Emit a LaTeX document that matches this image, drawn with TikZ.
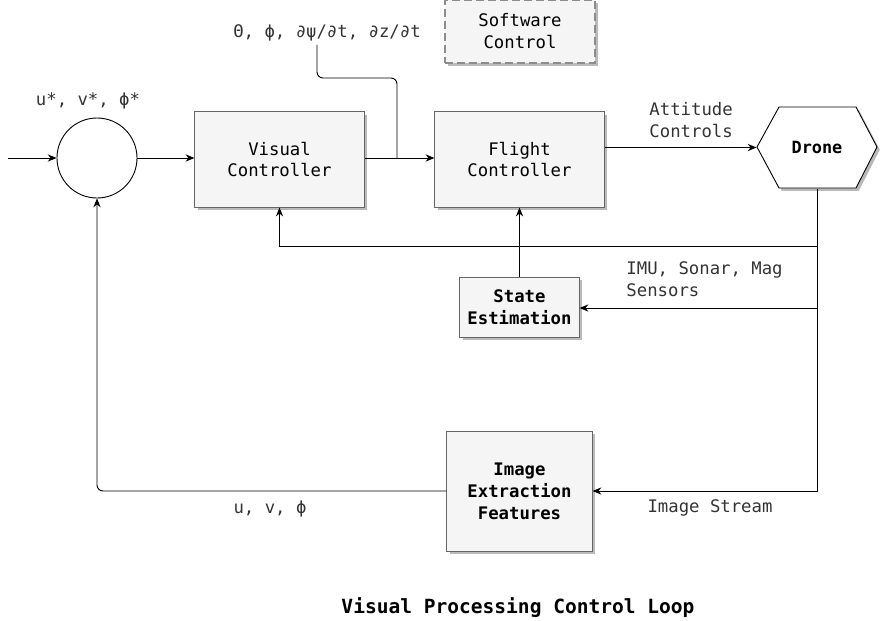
\documentclass[tikz,border=0pt]{standalone}
\usepackage{fontspec}
\setmainfont{DejaVu Sans Mono}
\usepackage{tikz}
\usetikzlibrary{calc}
\usetikzlibrary{positioning}
\usetikzlibrary{arrows.meta}
\usetikzlibrary{shadows}
\definecolor{boxfill}{HTML}{F5F5F5}
\definecolor{boxline}{HTML}{666666}
\definecolor{txt}{HTML}{333333}

\begin{document}
\begin{tikzpicture}[x=0.025cm,y=-0.025cm,line width=0.65pt,>={Stealth[length=2.2mm,width=1.8mm]},
    font=\fontsize{12.3}{15.6}\selectfont]
\tikzstyle{box}=[rectangle,align=center,draw=boxline,fill=boxfill,text=black,
    drop shadow={shadow xshift=0.07cm,shadow yshift=-0.07cm,opacity=0.45,fill=black!60}]
\tikzstyle{lbl}=[align=left,text=txt,inner sep=0pt]
\useasboundingbox (0,0) rectangle (880,620);
% blocks
\node[circle,draw,minimum size=2cm,fill=white] at(97, 158) (sum) {};
\node[box,minimum width=4.23cm,minimum height=2.38cm] at(279.5, 159.5) (vc) {Visual\\Controller};
\node[box,minimum width=4.23cm,minimum height=2.38cm] at(519.5, 159.5) (fc) {Flight\\Controller};
\node[box,dash pattern=on 2mm off 1mm,line width=1pt,draw=gray!90,minimum width=3.75cm,minimum height=1.58cm] at(520, 31.5) (sw) {Software\\Control};
\node[box,minimum width=2.98cm,minimum height=1.5cm] at(519.5, 307) (se) {\bfseries State\\\bfseries Estimation};
\node[box,minimum width=3.63cm,minimum height=3cm] at(519.5, 491) (img) {\bfseries Image\\\bfseries Extraction\\\bfseries Features};
% drone hexagon
\draw[fill=white,drop shadow={shadow xshift=0.07cm,shadow yshift=-0.07cm,opacity=0.45,fill=black!60}]
    (757,147) -- (779,107) -- (856,107) -- (877,147) -- (856,188) -- (779,188) -- cycle;
\node[minimum width=3cm,minimum height=2.03cm,font=\fontsize{12}{14}\selectfont\bfseries] at(817, 147.5) (drone) {Drone};
% labels
\node[lbl] at(88, 101) (ref) {u*, v*, ϕ*};
\node[lbl] at(327, 33) (att) {Θ, ϕ, ∂ψ/∂t, ∂z/∂t};
\node[lbl,anchor=west] at(649, 120) (attc) {Attitude\\Controls};
\node[lbl,anchor=west] at(626, 279) (sens) {IMU, Sonar, Mag\\Sensors};
\node[lbl] at(710, 508) (stream) {Image Stream};
\node[lbl] at(270, 509) (feat) {u, v, ϕ};
\node[lbl,text=black,font=\fontsize{13.9}{16}\selectfont\bfseries] at(518, 608) (title) {Visual Processing Control Loop};
% connectors
\coordinate (in) at(8, 158);
\coordinate (join) at(397, 158);
\coordinate (bend) at(397, 78);
\coordinate (tapvc) at(817, 246);
\coordinate (tapse) at(817, 308);
\draw[->] (in) -- (sum.west);
\draw[->] (sum.east) -- (vc.west |- sum.east);
\draw[->] (vc.east |- join) -- (fc.west |- join);
\draw[rounded corners=1.5mm] ([xshift=-0.25cm, yshift=-0.08cm]att.south) |- (bend) -- (join);
\draw[->] (fc.east |- drone.west) -- (drone.west);
\draw[->] (drone.south) |- (img.east);
\draw[->] (tapvc) -| (vc.south);
\draw[->] (tapse) -- (se.east |- tapse);
\draw[->] (se.north) -- (fc.south);
\draw[->,rounded corners=1.5mm] (img.west) -| (sum.south);
\end{tikzpicture}
\end{document}
